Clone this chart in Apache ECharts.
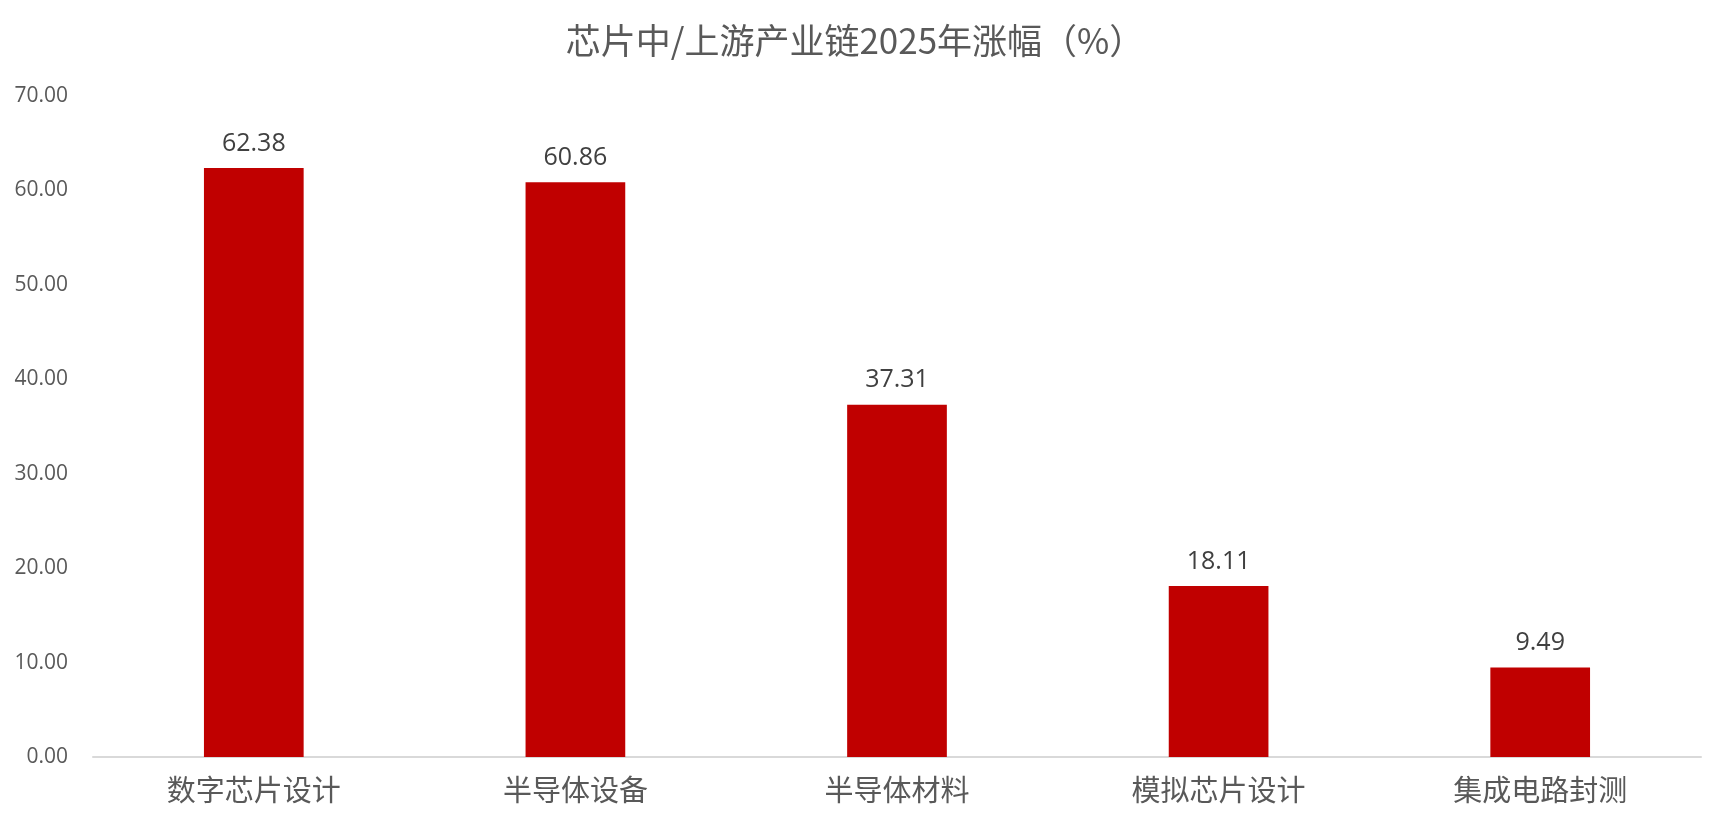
<!DOCTYPE html>
<html>
<head>
<meta charset="utf-8">
<script src="https://cdn.jsdelivr.net/npm/echarts@6/dist/echarts.min.js"></script>
<style>
  html, body { margin: 0; padding: 0; background: #fff; }
  #chart { width: 1710px; height: 816px; }
</style>
</head>
<body>
<div id="chart"></div>
<script>
// 数据
const categories = ['数字芯片设计', '半导体设备', '半导体材料', '模拟芯片设计', '集成电路封测'];
const gains = [62.38, 60.86, 37.31, 18.11, 9.49];
const yTicks = { min: 0, max: 70, step: 10 };

const CJK = '"Noto Sans CJK SC", "Noto Sans", sans-serif';

const chart = echarts.init(document.getElementById('chart'));

chart.setOption({
    backgroundColor: '#fff',
    animation: false,
    title: {
        text: '芯片中/上游产业链2025年涨幅（%）',
        left: 'center',
        top: 18,
        textStyle: { fontFamily: CJK, fontSize: 35, fontWeight: 'normal', color: '#595959' }
    },
    grid: { left: 93, right: 9, top: 96, bottom: 59, containLabel: false },
    xAxis: {
        type: 'category',
        data: categories,
        axisLine: { lineStyle: { color: '#d9d9d9', width: 2 } },
        axisTick: { show: false },
        axisLabel: { fontFamily: CJK, fontSize: 29, color: '#595959', margin: 18 }
    },
    yAxis: {
        type: 'value',
        min: yTicks.min,
        max: yTicks.max,
        interval: yTicks.step,
        axisLine: { show: false },
        axisTick: { show: false },
        splitLine: { show: false },
        axisLabel: {
            fontFamily: 'Open Sans, sans-serif',
            fontSize: 21,
            color: '#595959',
            margin: 25,
            formatter: v => v.toFixed(2)
        }
    },
    series: [{
        type: 'bar',
        data: gains,
        barWidth: '31%',
        itemStyle: { color: '#c00000' },
        label: {
            show: true,
            position: 'top',
            distance: 12,
            fontFamily: 'Open Sans, sans-serif',
            fontSize: 25,
            color: '#404040',
            formatter: p => p.value.toFixed(2)
        }
    }]
});
</script>
</body>
</html>
